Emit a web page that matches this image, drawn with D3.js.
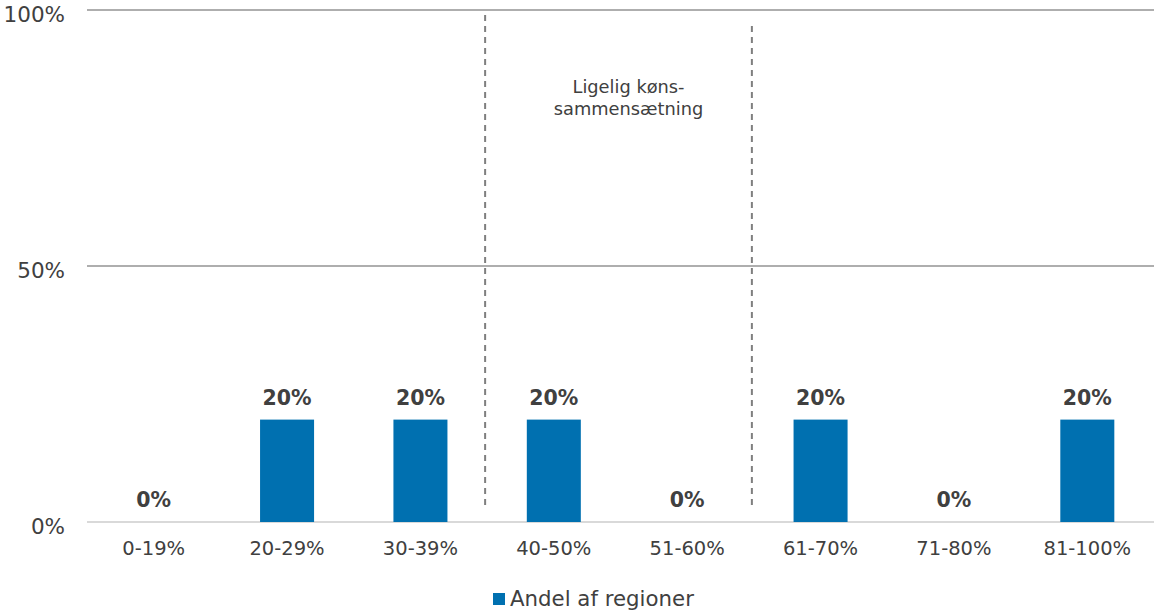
<!DOCTYPE html>
<html><head><meta charset="utf-8">
<script src="https://cdn.jsdelivr.net/npm/d3@7"></script>
<style>body{margin:0;background:#fff;}svg{display:block;font-family:"DejaVu Sans",Verdana,sans-serif;}</style>
</head><body>
<svg id="c" width="1154" height="611"></svg>
<script>
const categories = ["0-19%","20-29%","30-39%","40-50%","51-60%","61-70%","71-80%","81-100%"];
const values = [0,0.2,0.2,0.2,0,0.2,0,0.2];
const yTicks = [0,0.5,1];
const seriesName = "Andel af regioner";
const annotation = ["Ligelig køns-","sammensætning"];
const dividers = [2.5,4.5]; // between category indices

const svg = d3.select("#c");
const x = d3.scaleBand().domain(categories).range([87,1154]).paddingInner(0.595).paddingOuter(0.2975);
const y = d3.scaleLinear().domain([0,1]).range([522,10]);
const fmt = d3.format(".0%");

// gridlines
svg.append("g").selectAll("line").data(yTicks).join("line")
  .attr("x1",87).attr("x2",1154).attr("y1",d=>y(d)).attr("y2",d=>y(d))
  .attr("stroke",d=>d===0?"#d9d9d9":"#5f5f5f").attr("stroke-width",d=>d===0?2:1.2);
svg.append("g").selectAll("text").data(yTicks).join("text")
  .attr("x",65).attr("y",d=>y(d)+12).attr("text-anchor","end")
  .attr("font-size",21.5).attr("fill","#404040").text(d=>fmt(d));

// bars
svg.append("g").selectAll("rect").data(values).join("rect")
  .attr("x",(d,i)=>x(categories[i])).attr("width",x.bandwidth())
  .attr("y",d=>y(d)).attr("height",d=>y(0)-y(d)).attr("fill","#0070b0");
// labels
svg.append("g").selectAll("text").data(values).join("text")
  .attr("x",(d,i)=>x(categories[i])+x.bandwidth()/2).attr("y",d=>y(d)-15)
  .attr("text-anchor","middle").attr("font-size",20.5).attr("font-weight","bold")
  .attr("fill","#404040").text(d=>fmt(d));
// category labels
svg.append("g").selectAll("text").data(categories).join("text")
  .attr("x",d=>x(d)+x.bandwidth()/2).attr("y",555)
  .attr("text-anchor","middle").attr("font-size",19.5).attr("fill","#404040").text(d=>d);

// dividers
const step = x.step();
const divX = i => x.range()[0] + (i+0.5)*step - 2;
svg.append("g").selectAll("line").data(dividers).join("line")
  .attr("x1",d=>divX(d)).attr("x2",d=>divX(d))
  .attr("y1",(d,i)=>i===0?15:26).attr("y2",(d,i)=>i===0?507:510)
  .attr("stroke","#7f7f7f").attr("stroke-width",2).attr("stroke-dasharray","6,5");

// annotation
const ax = (divX(dividers[0])+divX(dividers[1]))/2 + 10;
svg.append("text").attr("x",ax).attr("y",93).attr("text-anchor","middle")
  .attr("font-size",17.8).attr("fill","#404040")
  .selectAll("tspan").data(annotation).join("tspan")
  .attr("x",ax).attr("dy",(d,i)=>i===0?0:22).text(d=>d);

// legend
svg.append("rect").attr("x",493).attr("y",593).attr("width",12).attr("height",12).attr("fill","#0070b0");
svg.append("text").attr("x",510).attr("y",606).attr("font-size",21.3).attr("fill","#404040").text(seriesName);
</script>
</body></html>
